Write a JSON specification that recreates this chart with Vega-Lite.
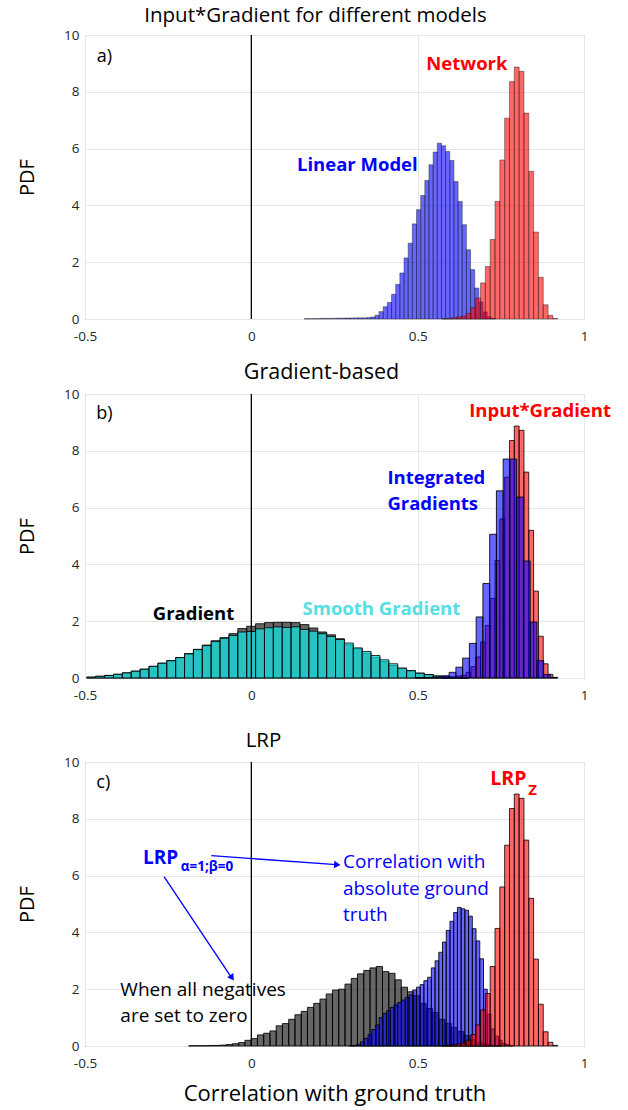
{
  "$schema": "https://vega.github.io/schema/vega-lite/v6.json",
  "padding": {"left": 17, "top": 5, "right": 0, "bottom": 2},
  "config": {
    "font": "Open Sans",
    "view": {"stroke": "#9a9a9a", "strokeWidth": 1},
    "bar": {"binSpacing": 0},
    "axis": {"grid": true, "gridColor": "#e6e6e6", "gridWidth": 1, "domain": false, "ticks": false, "labelFont": "Open Sans", "labelFontSize": 13.5, "labelColor": "#262626", "titleFont": "Open Sans", "titleFontSize": 20, "titleFontWeight": "normal", "titleColor": "#000000", "labelFlush": false},
    "axisX": {"labelPadding": 10, "titlePadding": 14},
    "axisY": {"labelPadding": 6, "titlePadding": 26},
    "title": {"font": "Open Sans", "fontSize": 20.5, "fontWeight": "normal", "color": "#000000", "offset": 4}
  },
  "datasets": {
    "red": [{"x":0.5715,"y":0.01},{"x":0.586,"y":0.02},{"x":0.6005,"y":0.04},{"x":0.615,"y":0.07},{"x":0.6295,"y":0.1},{"x":0.644,"y":0.2},{"x":0.6585,"y":0.4},{"x":0.673,"y":0.74},{"x":0.6875,"y":1.27},{"x":0.702,"y":1.85},{"x":0.7165,"y":2.8},{"x":0.731,"y":4.14},{"x":0.7455,"y":5.6},{"x":0.76,"y":7.07},{"x":0.7745,"y":8.36},{"x":0.789,"y":8.87},{"x":0.8035,"y":8.72},{"x":0.818,"y":7.25},{"x":0.8325,"y":5.2},{"x":0.847,"y":3.06},{"x":0.8615,"y":1.47},{"x":0.876,"y":0.5},{"x":0.8905,"y":0.13},{"x":0.905,"y":0.02}],
    "linear": [{"x":0.1575,"y":0.01},{"x":0.17,"y":0.01},{"x":0.1825,"y":0.01},{"x":0.195,"y":0.015},{"x":0.2075,"y":0.02},{"x":0.22,"y":0.02},{"x":0.2325,"y":0.02},{"x":0.245,"y":0.025},{"x":0.2575,"y":0.03},{"x":0.27,"y":0.03},{"x":0.2825,"y":0.035},{"x":0.295,"y":0.035},{"x":0.3075,"y":0.04},{"x":0.32,"y":0.04},{"x":0.3325,"y":0.04},{"x":0.345,"y":0.05},{"x":0.3575,"y":0.07},{"x":0.37,"y":0.13},{"x":0.3825,"y":0.26},{"x":0.395,"y":0.43},{"x":0.4075,"y":0.58},{"x":0.42,"y":0.87},{"x":0.4325,"y":1.22},{"x":0.445,"y":1.62},{"x":0.4575,"y":2.15},{"x":0.47,"y":2.67},{"x":0.4825,"y":3.35},{"x":0.495,"y":3.85},{"x":0.5075,"y":4.35},{"x":0.52,"y":4.88},{"x":0.5325,"y":5.43},{"x":0.545,"y":5.88},{"x":0.5575,"y":6.19},{"x":0.57,"y":6.1},{"x":0.5825,"y":5.9},{"x":0.595,"y":5.58},{"x":0.6075,"y":4.84},{"x":0.62,"y":4.14},{"x":0.6325,"y":3.32},{"x":0.645,"y":2.44},{"x":0.6575,"y":1.74},{"x":0.67,"y":1.09},{"x":0.6825,"y":0.6},{"x":0.695,"y":0.25},{"x":0.7075,"y":0.08},{"x":0.72,"y":0.02}],
    "gradient": [{"x":-0.496,"y":0.03},{"x":-0.4693,"y":0.06},{"x":-0.4426,"y":0.09},{"x":-0.4159,"y":0.13},{"x":-0.3892,"y":0.18},{"x":-0.3625,"y":0.24},{"x":-0.3358,"y":0.31},{"x":-0.3091,"y":0.41},{"x":-0.2824,"y":0.52},{"x":-0.2557,"y":0.61},{"x":-0.229,"y":0.72},{"x":-0.2023,"y":0.86},{"x":-0.1756,"y":1.01},{"x":-0.1489,"y":1.16},{"x":-0.1222,"y":1.31},{"x":-0.0955,"y":1.42},{"x":-0.0688,"y":1.56},{"x":-0.0421,"y":1.74},{"x":-0.0154,"y":1.82},{"x":0.0113,"y":1.91},{"x":0.038,"y":1.95},{"x":0.0647,"y":1.96},{"x":0.0914,"y":1.96},{"x":0.1181,"y":1.95},{"x":0.1448,"y":1.88},{"x":0.1715,"y":1.76},{"x":0.1982,"y":1.62},{"x":0.2249,"y":1.52},{"x":0.2516,"y":1.38},{"x":0.2783,"y":1.17},{"x":0.305,"y":1.03},{"x":0.3317,"y":0.87},{"x":0.3584,"y":0.73},{"x":0.3851,"y":0.58},{"x":0.4118,"y":0.44},{"x":0.4385,"y":0.34},{"x":0.4652,"y":0.25},{"x":0.4919,"y":0.17},{"x":0.5186,"y":0.12},{"x":0.5453,"y":0.07},{"x":0.572,"y":0.04},{"x":0.5987,"y":0.02},{"x":0.6254,"y":0.01}],
    "smooth": [{"x":-0.496,"y":0.03},{"x":-0.4693,"y":0.06},{"x":-0.4426,"y":0.09},{"x":-0.4159,"y":0.13},{"x":-0.3892,"y":0.18},{"x":-0.3625,"y":0.24},{"x":-0.3358,"y":0.31},{"x":-0.3091,"y":0.41},{"x":-0.2824,"y":0.52},{"x":-0.2557,"y":0.61},{"x":-0.229,"y":0.72},{"x":-0.2023,"y":0.85},{"x":-0.1756,"y":1.0},{"x":-0.1489,"y":1.14},{"x":-0.1222,"y":1.29},{"x":-0.0955,"y":1.4},{"x":-0.0688,"y":1.5},{"x":-0.0421,"y":1.62},{"x":-0.0154,"y":1.64},{"x":0.0113,"y":1.73},{"x":0.038,"y":1.77},{"x":0.0647,"y":1.8},{"x":0.0914,"y":1.78},{"x":0.1181,"y":1.8},{"x":0.1448,"y":1.71},{"x":0.1715,"y":1.65},{"x":0.1982,"y":1.56},{"x":0.2249,"y":1.46},{"x":0.2516,"y":1.36},{"x":0.2783,"y":1.23},{"x":0.305,"y":1.06},{"x":0.3317,"y":0.93},{"x":0.3584,"y":0.79},{"x":0.3851,"y":0.64},{"x":0.4118,"y":0.5},{"x":0.4385,"y":0.35},{"x":0.4652,"y":0.26},{"x":0.4919,"y":0.17},{"x":0.5186,"y":0.12},{"x":0.5453,"y":0.07},{"x":0.572,"y":0.04},{"x":0.5987,"y":0.02},{"x":0.6254,"y":0.01}],
    "intgrad": [{"x":0.4916,"y":0.01},{"x":0.5119,"y":0.01},{"x":0.5322,"y":0.02},{"x":0.5525,"y":0.04},{"x":0.5728,"y":0.08},{"x":0.5931,"y":0.2},{"x":0.6134,"y":0.38},{"x":0.6337,"y":0.7},{"x":0.654,"y":1.22},{"x":0.6743,"y":2.15},{"x":0.6946,"y":3.33},{"x":0.7149,"y":5.06},{"x":0.7352,"y":6.59},{"x":0.7555,"y":7.71},{"x":0.7758,"y":7.71},{"x":0.7961,"y":6.37},{"x":0.8164,"y":4.12},{"x":0.8367,"y":1.97},{"x":0.857,"y":0.61},{"x":0.8773,"y":0.12},{"x":0.8976,"y":0.02}],
    "lrpgray": [{"x":-0.19,"y":0.005},{"x":-0.1712,"y":0.01},{"x":-0.1524,"y":0.01},{"x":-0.1336,"y":0.015},{"x":-0.1148,"y":0.02},{"x":-0.096,"y":0.03},{"x":-0.0772,"y":0.05},{"x":-0.0584,"y":0.08},{"x":-0.0396,"y":0.12},{"x":-0.0208,"y":0.2},{"x":-0.002,"y":0.26},{"x":0.0168,"y":0.39},{"x":0.0356,"y":0.45},{"x":0.0544,"y":0.53},{"x":0.0732,"y":0.71},{"x":0.092,"y":0.79},{"x":0.1108,"y":0.94},{"x":0.1296,"y":1.1},{"x":0.1484,"y":1.22},{"x":0.1672,"y":1.36},{"x":0.186,"y":1.5},{"x":0.2048,"y":1.65},{"x":0.2236,"y":1.83},{"x":0.2424,"y":1.97},{"x":0.2612,"y":2.0},{"x":0.28,"y":2.18},{"x":0.2988,"y":2.38},{"x":0.3176,"y":2.54},{"x":0.3364,"y":2.66},{"x":0.3552,"y":2.75},{"x":0.374,"y":2.8},{"x":0.3928,"y":2.62},{"x":0.4116,"y":2.56},{"x":0.4304,"y":2.33},{"x":0.4492,"y":2.07},{"x":0.468,"y":1.91},{"x":0.4868,"y":1.77},{"x":0.5056,"y":1.5},{"x":0.5244,"y":1.32},{"x":0.5432,"y":1.18},{"x":0.562,"y":0.94},{"x":0.5808,"y":0.8},{"x":0.5996,"y":0.65},{"x":0.6184,"y":0.51},{"x":0.6372,"y":0.37},{"x":0.656,"y":0.22},{"x":0.6748,"y":0.13},{"x":0.6936,"y":0.07},{"x":0.7124,"y":0.03},{"x":0.7312,"y":0.01}],
    "lrpblue": [{"x":0.2932,"y":0.01},{"x":0.3044,"y":0.02},{"x":0.3156,"y":0.06},{"x":0.3268,"y":0.15},{"x":0.338,"y":0.27},{"x":0.3492,"y":0.4},{"x":0.3604,"y":0.58},{"x":0.3716,"y":0.74},{"x":0.3828,"y":1.0},{"x":0.394,"y":1.15},{"x":0.4052,"y":1.24},{"x":0.4164,"y":1.36},{"x":0.4276,"y":1.45},{"x":0.4388,"y":1.53},{"x":0.45,"y":1.62},{"x":0.4612,"y":1.71},{"x":0.4724,"y":1.8},{"x":0.4836,"y":1.97},{"x":0.4948,"y":2.07},{"x":0.506,"y":2.16},{"x":0.5172,"y":2.3},{"x":0.5284,"y":2.42},{"x":0.5396,"y":2.75},{"x":0.5508,"y":3.0},{"x":0.562,"y":3.3},{"x":0.5732,"y":3.66},{"x":0.5844,"y":4.07},{"x":0.5956,"y":4.39},{"x":0.6068,"y":4.7},{"x":0.618,"y":4.88},{"x":0.6292,"y":4.83},{"x":0.6404,"y":4.78},{"x":0.6516,"y":4.57},{"x":0.6628,"y":4.13},{"x":0.674,"y":3.7},{"x":0.6852,"y":3.07},{"x":0.6964,"y":2.0},{"x":0.7076,"y":1.12},{"x":0.7188,"y":0.6},{"x":0.73,"y":0.35},{"x":0.7412,"y":0.2},{"x":0.7524,"y":0.1},{"x":0.7636,"y":0.05},{"x":0.7748,"y":0.02}]
  },
  "spacing": 28,
  "vconcat": [
    {
      "spacing": 18,
      "vconcat": [
        {
          "width": 499, "height": 284,
          "title": {"text": "Input*Gradient for different models", "dx": -19, "offset": 2},
          "encoding": {
            "x": {"field": "x", "type": "quantitative", "scale": {"domain": [-0.5, 1], "nice": false, "zero": false}, "axis": {"values": [-0.5, 0, 0.5, 1], "format": "~g", "labelExpr": "replace(datum.label, '−', '-')"}, "title": null},
            "y": {"field": "y", "type": "quantitative", "scale": {"domain": [0, 10], "nice": false}, "axis": {"values": [0, 2, 4, 6, 8, 10], "format": "d"}, "title": "PDF"}
          },
          "layer": [
            {"data": {"name": "linear"}, "mark": {"type": "bar", "fill": "#0000ff", "fillOpacity": 0.6, "stroke": "#1a1a1a", "strokeWidth": 0.8, "strokeOpacity": 0.55},
             "encoding": {"x": {"field": "x", "type": "quantitative", "bin": {"binned": true, "step": 0.0125}, "scale": {"domain": [-0.5, 1], "nice": false, "zero": false}, "axis": {"values": [-0.5, 0, 0.5, 1], "format": "~g", "labelExpr": "replace(datum.label, '−', '-')"}, "title": null}}},
            {"data": {"name": "red"}, "mark": {"type": "bar", "fill": "#ff0000", "fillOpacity": 0.6, "stroke": "#1a1a1a", "strokeWidth": 0.8, "strokeOpacity": 0.55},
             "encoding": {"x": {"field": "x", "type": "quantitative", "bin": {"binned": true, "step": 0.0145}, "scale": {"domain": [-0.5, 1], "nice": false, "zero": false}, "axis": {"values": [-0.5, 0, 0.5, 1], "format": "~g", "labelExpr": "replace(datum.label, '−', '-')"}, "title": null}}},
            {"data": {"values": [{"x": 0, "y": 0, "y2": 10}]}, "mark": {"type": "rule", "color": "#000000", "strokeWidth": 1.3}, "encoding": {"y2": {"field": "y2"}}},
            {"data": {"values": [{"x": -0.465, "y": 9.23, "t": "a)"}]}, "mark": {"type": "text", "align": "left", "baseline": "middle", "fontSize": 18, "color": "#000000"}, "encoding": {"text": {"field": "t"}}},
            {"data": {"values": [{"x": 0.648, "y": 8.98, "t": "Network"}]}, "mark": {"type": "text", "align": "center", "baseline": "middle", "fontSize": 18.5, "fontWeight": "bold", "color": "#ff0000"}, "encoding": {"text": {"field": "t"}}},
            {"data": {"values": [{"x": 0.3186, "y": 5.42, "t": "Linear Model"}]}, "mark": {"type": "text", "align": "center", "baseline": "middle", "fontSize": 18.5, "fontWeight": "bold", "color": "#0000ff"}, "encoding": {"text": {"field": "t"}}}
          ]
        },
        {
          "width": 499, "height": 284,
          "title": {"text": "Gradient-based", "dx": -13, "fontSize": 21.5},
          "encoding": {
            "x": {"field": "x", "type": "quantitative", "scale": {"domain": [-0.5, 1], "nice": false, "zero": false}, "axis": {"values": [-0.5, 0, 0.5, 1], "format": "~g", "labelExpr": "replace(datum.label, '−', '-')"}, "title": null},
            "y": {"field": "y", "type": "quantitative", "scale": {"domain": [0, 10], "nice": false}, "axis": {"values": [0, 2, 4, 6, 8, 10], "format": "d"}, "title": "PDF"}
          },
          "layer": [
            {"data": {"name": "gradient"}, "mark": {"type": "bar", "fill": "#000000", "fillOpacity": 0.6, "stroke": "#000000", "strokeWidth": 1, "strokeOpacity": 0.85},
             "encoding": {"x": {"field": "x", "type": "quantitative", "bin": {"binned": true, "step": 0.0267}, "scale": {"domain": [-0.5, 1], "nice": false, "zero": false}, "axis": {"values": [-0.5, 0, 0.5, 1], "format": "~g", "labelExpr": "replace(datum.label, '−', '-')"}, "title": null}}},
            {"data": {"name": "smooth"}, "mark": {"type": "bar", "fill": "#00ffff", "fillOpacity": 0.6, "stroke": "#000000", "strokeWidth": 1, "strokeOpacity": 0.85},
             "encoding": {"x": {"field": "x", "type": "quantitative", "bin": {"binned": true, "step": 0.0267}, "scale": {"domain": [-0.5, 1], "nice": false, "zero": false}, "axis": {"values": [-0.5, 0, 0.5, 1], "format": "~g", "labelExpr": "replace(datum.label, '−', '-')"}, "title": null}}},
            {"data": {"name": "red"}, "mark": {"type": "bar", "fill": "#ff0000", "fillOpacity": 0.6, "stroke": "#000000", "strokeWidth": 1, "strokeOpacity": 0.8},
             "encoding": {"x": {"field": "x", "type": "quantitative", "bin": {"binned": true, "step": 0.0145}, "scale": {"domain": [-0.5, 1], "nice": false, "zero": false}, "axis": {"values": [-0.5, 0, 0.5, 1], "format": "~g", "labelExpr": "replace(datum.label, '−', '-')"}, "title": null}}},
            {"data": {"name": "intgrad"}, "mark": {"type": "bar", "fill": "#0000ff", "fillOpacity": 0.6, "stroke": "#000000", "strokeWidth": 1, "strokeOpacity": 0.85},
             "encoding": {"x": {"field": "x", "type": "quantitative", "bin": {"binned": true, "step": 0.0203}, "scale": {"domain": [-0.5, 1], "nice": false, "zero": false}, "axis": {"values": [-0.5, 0, 0.5, 1], "format": "~g", "labelExpr": "replace(datum.label, '−', '-')"}, "title": null}}},
            {"data": {"values": [{"x": 0, "y": 0, "y2": 10}]}, "mark": {"type": "rule", "color": "#000000", "strokeWidth": 1.3}, "encoding": {"y2": {"field": "y2"}}},
            {"data": {"values": [{"x": -0.466, "y": 9.29, "t": "b)"}]}, "mark": {"type": "text", "align": "left", "baseline": "middle", "fontSize": 18, "color": "#000000"}, "encoding": {"text": {"field": "t"}}},
            {"data": {"values": [{"x": 0.655, "y": 9.4, "t": "Input*Gradient"}]}, "mark": {"type": "text", "align": "left", "baseline": "middle", "fontSize": 18.5, "fontWeight": "bold", "color": "#ff0000"}, "encoding": {"text": {"field": "t"}}},
            {"data": {"values": [{"x": 0.409, "y": 7.03, "t": "Integrated"}, {"x": 0.409, "y": 6.11, "t": "Gradients"}]}, "mark": {"type": "text", "align": "left", "baseline": "middle", "fontSize": 18.5, "fontWeight": "bold", "color": "#0000ff"}, "encoding": {"text": {"field": "t"}}},
            {"data": {"values": [{"x": -0.174, "y": 2.25, "t": "Gradient"}]}, "mark": {"type": "text", "align": "center", "baseline": "middle", "fontSize": 18.5, "fontWeight": "bold", "color": "#000000"}, "encoding": {"text": {"field": "t"}}},
            {"data": {"values": [{"x": 0.391, "y": 2.43, "t": "Smooth Gradient"}]}, "mark": {"type": "text", "align": "center", "baseline": "middle", "fontSize": 18.5, "fontWeight": "bold", "color": "#55dfe2"}, "encoding": {"text": {"field": "t"}}}
          ]
        }
      ]
    },
    {
      "width": 499, "height": 284,
      "title": {"text": "LRP", "dx": -71},
      "encoding": {
        "x": {"field": "x", "type": "quantitative", "scale": {"domain": [-0.5, 1], "nice": false, "zero": false}, "axis": {"values": [-0.5, 0, 0.5, 1], "format": "~g", "labelExpr": "replace(datum.label, '−', '-')", "titleFontSize": 22}, "title": "Correlation with ground truth"},
        "y": {"field": "y", "type": "quantitative", "scale": {"domain": [0, 10], "nice": false}, "axis": {"values": [0, 2, 4, 6, 8, 10], "format": "d"}, "title": "PDF"}
      },
      "layer": [
        {"data": {"name": "lrpgray"}, "mark": {"type": "bar", "fill": "#000000", "fillOpacity": 0.6, "stroke": "#000000", "strokeWidth": 1, "strokeOpacity": 0.85},
         "encoding": {"x": {"field": "x", "type": "quantitative", "bin": {"binned": true, "step": 0.0188}, "scale": {"domain": [-0.5, 1], "nice": false, "zero": false}, "axis": {"values": [-0.5, 0, 0.5, 1], "format": "~g", "labelExpr": "replace(datum.label, '−', '-')", "titleFontSize": 22}, "title": "Correlation with ground truth"}}},
        {"data": {"name": "lrpblue"}, "mark": {"type": "bar", "fill": "#0000ff", "fillOpacity": 0.6, "stroke": "#000000", "strokeWidth": 1, "strokeOpacity": 0.85},
         "encoding": {"x": {"field": "x", "type": "quantitative", "bin": {"binned": true, "step": 0.0112}, "scale": {"domain": [-0.5, 1], "nice": false, "zero": false}, "axis": {"values": [-0.5, 0, 0.5, 1], "format": "~g", "labelExpr": "replace(datum.label, '−', '-')", "titleFontSize": 22}, "title": "Correlation with ground truth"}}},
        {"data": {"name": "red"}, "mark": {"type": "bar", "fill": "#ff0000", "fillOpacity": 0.6, "stroke": "#000000", "strokeWidth": 1, "strokeOpacity": 0.8},
         "encoding": {"x": {"field": "x", "type": "quantitative", "bin": {"binned": true, "step": 0.0145}, "scale": {"domain": [-0.5, 1], "nice": false, "zero": false}, "axis": {"values": [-0.5, 0, 0.5, 1], "format": "~g", "labelExpr": "replace(datum.label, '−', '-')", "titleFontSize": 22}, "title": "Correlation with ground truth"}}},
        {"data": {"values": [{"x": 0, "y": 0, "y2": 10}]}, "mark": {"type": "rule", "color": "#000000", "strokeWidth": 1.3}, "encoding": {"y2": {"field": "y2"}}},
        {"data": {"values": [{"x": -0.1202, "y": 6.7, "x2": 0.2555, "y2": 6.39}, {"x": -0.2624, "y": 5.96, "x2": -0.058, "y2": 2.38}]}, "mark": {"type": "rule", "color": "#0000ff", "strokeWidth": 1.3}, "encoding": {"x2": {"field": "x2"}, "y2": {"field": "y2"}}},
        {"data": {"values": [{"x": 0.2585, "y": 6.385}]}, "mark": {"type": "point", "shape": "triangle-right", "filled": true, "color": "#0000ff", "opacity": 1, "size": 55, "angle": 4}},
        {"data": {"values": [{"x": -0.058, "y": 2.4}]}, "mark": {"type": "point", "shape": "triangle-up", "filled": true, "color": "#0000ff", "opacity": 1, "size": 55, "angle": 146}},
        {"data": {"values": [{"x": -0.466, "y": 9.25, "t": "c)"}]}, "mark": {"type": "text", "align": "left", "baseline": "middle", "fontSize": 18, "color": "#000000"}, "encoding": {"text": {"field": "t"}}},
        {"data": {"values": [{"x": 0.7184, "y": 9.39, "t": "LRP"}]}, "mark": {"type": "text", "align": "left", "baseline": "middle", "fontSize": 19.5, "fontWeight": "bold", "color": "#ff0000"}, "encoding": {"text": {"field": "t"}}},
        {"data": {"values": [{"x": 0.8326, "y": 9.03, "t": "Z"}]}, "mark": {"type": "text", "align": "left", "baseline": "middle", "fontSize": 15, "fontWeight": "bold", "color": "#ff0000"}, "encoding": {"text": {"field": "t"}}},
        {"data": {"values": [{"x": -0.3255, "y": 6.61, "t": "LRP"}]}, "mark": {"type": "text", "align": "left", "baseline": "middle", "fontSize": 19, "fontWeight": "bold", "color": "#0000ff"}, "encoding": {"text": {"field": "t"}}},
        {"data": {"values": [{"x": -0.212, "y": 6.3, "t": "α=1;β=0"}]}, "mark": {"type": "text", "align": "left", "baseline": "middle", "fontSize": 13.5, "fontWeight": "bold", "color": "#0000ff"}, "encoding": {"text": {"field": "t"}}},
        {"data": {"values": [{"x": 0.2756, "y": 6.49, "t": "Correlation with"}, {"x": 0.2756, "y": 5.52, "t": "absolute ground"}, {"x": 0.2756, "y": 4.61, "t": "truth"}]}, "mark": {"type": "text", "align": "left", "baseline": "middle", "fontSize": 19, "color": "#0000ff"}, "encoding": {"text": {"field": "t"}}},
        {"data": {"values": [{"x": -0.3937, "y": 1.98, "t": "When all negatives"}, {"x": -0.3937, "y": 1.06, "t": "are set to zero"}]}, "mark": {"type": "text", "align": "left", "baseline": "middle", "fontSize": 19, "color": "#000000"}, "encoding": {"text": {"field": "t"}}}
      ]
    }
  ]
}
